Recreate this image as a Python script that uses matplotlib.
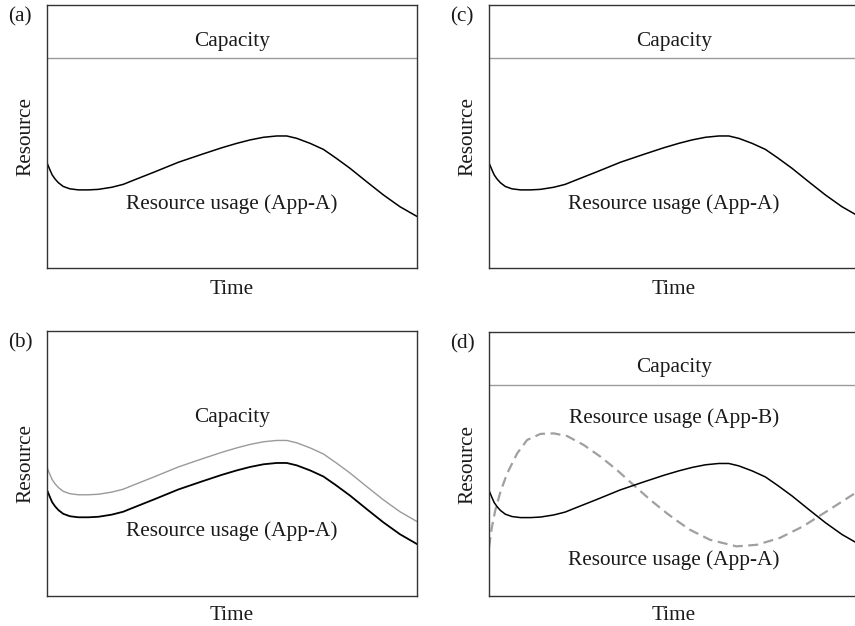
import matplotlib
matplotlib.use("Agg")
import matplotlib.pyplot as plt

plt.rcParams["font.family"] = ["Liberation Serif", "DejaVu Serif"]
plt.rcParams["lines.solid_joinstyle"] = "round"
plt.rcParams["lines.dash_joinstyle"] = "round"

# Resource usage of App-A over time (arbitrary units)
time = [0, 0.08, 0.14, 0.22, 0.31, 0.44, 0.62, 0.85, 1.12, 1.39, 1.75, 2.06, 2.29,
        2.92, 3.55, 4.18, 4.72, 5.13, 5.49, 5.85, 6.21, 6.48, 6.75, 7.11, 7.47, 7.80,
        8.19, 8.64, 9.09, 9.54, 10]
usage_a = [40.0, 37.3, 35.4, 33.8, 32.4, 31.0, 30.1, 29.7, 29.7, 29.9, 30.7, 31.8, 33.1,
           36.6, 40.2, 43.2, 45.7, 47.4, 48.7, 49.7, 50.2, 50.2, 49.3, 47.4, 45.1, 41.9,
           37.9, 32.8, 27.8, 23.3, 19.6]

# Elastic capacity that follows App-A with some headroom
capacity_b = [48.5, 45.8, 43.9, 42.3, 40.9, 39.5, 38.6, 38.2, 38.2, 38.4, 39.2, 40.3, 41.6,
              45.1, 48.7, 51.7, 54.2, 55.9, 57.2, 58.2, 58.7, 58.7, 57.8, 55.9, 53.6, 50.4,
              46.4, 41.3, 36.3, 31.8, 28.1]

# Resource usage of App-B
time_b = [0, 0.08, 0.17, 0.31, 0.49, 0.76, 1.03, 1.39, 1.75, 2.11, 2.56, 3.01, 3.46,
          3.91, 4.36, 4.81, 5.08, 5.43, 5.97, 6.69, 7.24, 7.86, 8.49, 9.13, 9.89, 10]
usage_b = [18.5, 26.2, 32.5, 39.5, 46.4, 54.0, 59.1, 61.4, 61.6, 60.6, 57.2, 52.8, 47.7,
           42.0, 36.4, 31.3, 28.5, 25.1, 21.3, 18.8, 19.4, 22.0, 26.4, 32.1, 38.9, 39.8]

# Fixed capacity level
capacity = 80

W, H = 855, 626
fig = plt.figure(figsize=(W / 100, H / 100), dpi=100)

label_size = 15.3
ink = "#1a1a1a"
grey = "#9a9a9a"


def panel(left, top, bottom, tag, xpad):
    ax = fig.add_axes([left / W, 1 - bottom / H, 370 / W, (bottom - top) / H],
                      xlim=[0, 10], ylim=[0, 100], xticks=[], yticks=[])
    for spine in ax.spines.values():
        spine.set_linewidth(1.0)
        spine.set_color("#333333")
    ax.set_xlabel("Time", size=label_size, color=ink, labelpad=xpad)
    ax.set_ylabel("Resource", size=label_size, color=ink, labelpad=8)
    fig.text((left - 27) / W, 1 - (top + 12) / H, tag, size=label_size,
             color=ink, ha="center", va="center")
    return ax


# (a) fixed capacity, App-A only
# ----------------------------------------------------------------------------
ax = panel(47, 5, 268, "(a)", 9)
ax.axhline(capacity, color=grey, linewidth=1.0)
ax.plot(time, usage_a, color="black", linewidth=1.1)
ax.text(5, 86, "Capacity", size=label_size, color=ink, ha="center", va="center")
ax.text(5, 24.3, "Resource usage (App-A)", size=label_size, color=ink,
        ha="center", va="center")

# (c) fixed capacity, App-A only
# ----------------------------------------------------------------------------
ax = panel(489, 5, 268, "(c)", 9)
ax.axhline(capacity, color=grey, linewidth=1.0)
ax.plot(time, usage_a, color="black", linewidth=1.1)
ax.text(5, 86, "Capacity", size=label_size, color=ink, ha="center", va="center")
ax.text(5, 24.3, "Resource usage (App-A)", size=label_size, color=ink,
        ha="center", va="center")

# (b) capacity following App-A
# ----------------------------------------------------------------------------
ax = panel(47, 331, 596, "(b)", 7)
ax.plot(time, capacity_b, color=grey, linewidth=1.0)
ax.plot(time, usage_a, color="black", linewidth=1.3)
ax.text(5, 67.2, "Capacity", size=label_size, color=ink, ha="center", va="center")
ax.text(5, 24.5, "Resource usage (App-A)", size=label_size, color=ink,
        ha="center", va="center")

# (d) fixed capacity shared by App-A and App-B
# ----------------------------------------------------------------------------
ax = panel(489, 332, 596, "(d)", 7)
ax.axhline(capacity, color=grey, linewidth=1.0)
ax.plot(time_b, usage_b, color="#a0a0a0", linewidth=1.6, dashes=(4.5, 2.5))
ax.plot(time, usage_a, color="black", linewidth=1.1)
ax.text(5, 86.7, "Capacity", size=label_size, color=ink, ha="center", va="center")
ax.text(5, 67.4, "Resource usage (App-B)", size=label_size, color=ink,
        ha="center", va="center")
ax.text(5, 13.6, "Resource usage (App-A)", size=label_size, color=ink,
        ha="center", va="center")

plt.savefig("out.png", dpi=100)
